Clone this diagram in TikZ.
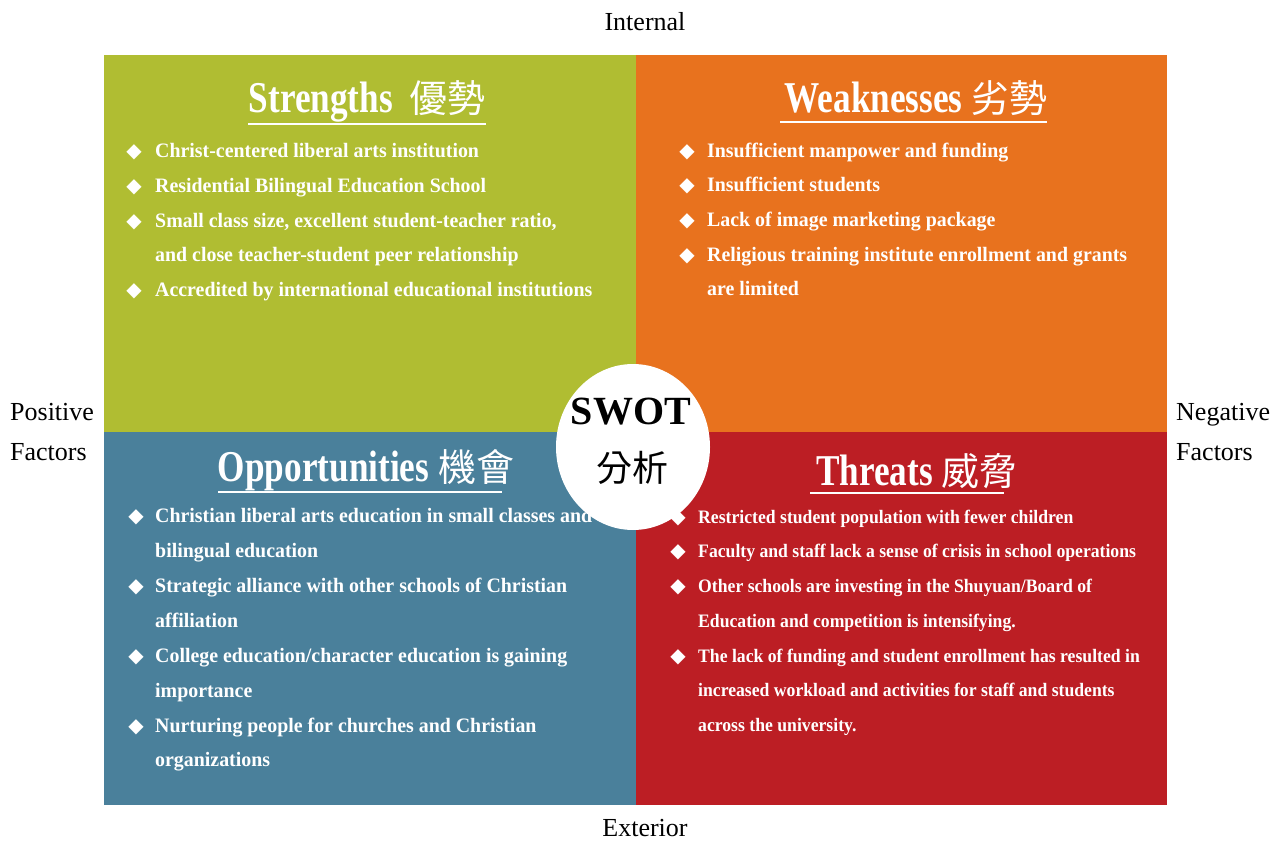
\documentclass[tikz,border=0pt]{standalone}
\usepackage{fontspec}
\usetikzlibrary{shapes.geometric}
\setmainfont{Liberation Serif}
\newfontfamily\cond[FakeStretch=0.8]{Liberation Serif}
\newfontfamily\bodyf[FakeStretch=0.97]{Liberation Serif}
\newfontfamily\tbodyf[FakeStretch=0.93]{Liberation Serif}
\newfontfamily\cjk{Noto Sans CJK TC}
\newfontfamily\sym{DejaVu Sans}
\definecolor{sgreen}{RGB}{176,189,50}
\definecolor{worange}{RGB}{232,114,30}
\definecolor{oblue}{RGB}{74,128,155}
\definecolor{tred}{RGB}{188,30,36}
\newcommand{\zh}[1]{{\cjk\mdseries\fontsize{38}{40}\selectfont #1}}
\begin{document}
\begin{tikzpicture}[x=1pt,y=-1pt,
  lbl/.style={font=\fontsize{26}{30}\selectfont, text=black, inner sep=0},
  side/.style={font=\fontsize{26}{40}\selectfont, text=black, inner sep=0, align=left, anchor=west},
  ttl/.style={font=\cond\bfseries\fontsize{44}{46}\selectfont, text=white, inner sep=0, anchor=base},
  ln/.style={font=\bodyf\bfseries\fontsize{20.5}{22}\selectfont, text=white, inner sep=0, anchor=base west},
  tln/.style={font=\tbodyf\bfseries\fontsize{19}{21}\selectfont, text=white, inner sep=0, anchor=base west},
  bul/.style={font=\sym\fontsize{20}{20}\selectfont, text=white, inner sep=0, anchor=base},
  uline/.style={white, line width=2pt},
]
\useasboundingbox (0,0) rectangle (1286,843);
\fill[white] (0,0) rectangle (1286,843);
% quadrants
\fill[sgreen]  (104,55) rectangle (636,432);
\fill[worange] (636,55) rectangle (1167,432);
\fill[oblue]   (104,432) rectangle (636,805);
\fill[tred]    (636,432) rectangle (1167,805);
% outer labels
\node[lbl] (int) at (645,22) {Internal};
\node[lbl] (ext) at (645,828) {Exterior};
\node[side] (pos) at (10,432) {Positive\\Factors};
\node[side] (neg) at (1176,432) {Negative\\Factors};
% Strengths
\node[ttl] (st) at (367,113) {Strengths\, \zh{優勢}};
\draw[uline] (248,124) -- (486,124);
\foreach \y in {157,192,227,296} \node[bul] at (134,\y) {◆};
\node[ln] (s1) at (155,157) {Christ-centered liberal arts institution};
\node[ln] (s2) at (155,192) {Residential Bilingual Education School};
\node[ln] (s3) at (155,227) {Small class size, excellent student-teacher ratio,};
\node[ln] (s4) at (155,261) {and close teacher-student peer relationship};
\node[ln] (s5) at (155,296) {Accredited by international educational institutions};
% Weaknesses
\node[ttl] (wk) at (916,112) {Weaknesses \zh{劣勢}};
\draw[uline] (780,122) -- (1047,122);
\foreach \y in {157,191,226,261} \node[bul] at (687,\y) {◆};
\node[ln] (w1) at (707,157) {Insufficient manpower and funding};
\node[ln] (w2) at (707,191) {Insufficient students};
\node[ln] (w3) at (707,226) {Lack of image marketing package};
\node[ln] (w4) at (707,261) {Religious training institute enrollment and grants};
\node[ln] (w5) at (707,295) {are limited};
% Opportunities
\node[ttl] (op) at (366,481) {Opportunities \zh{機會}};
\draw[uline] (218,492) -- (502,492);
\foreach \y in {522,592,662,732} \node[bul] at (136,\y) {◆};
\node[ln] (o1) at (155,522) {Christian liberal arts education in small classes and};
\node[ln] (o2) at (155,557) {bilingual education};
\node[ln] (o3) at (155,592) {Strategic alliance with other schools of Christian};
\node[ln] (o4) at (155,627) {affiliation};
\node[ln] (o5) at (155,662) {College education/character education is gaining};
\node[ln] (o6) at (155,697) {importance};
\node[ln] (o7) at (155,732) {Nurturing people for churches and Christian};
\node[ln] (o8) at (155,766) {organizations};
% Threats
\node[ttl] (th) at (917,485) {Threats \zh{威脅}};
\draw[uline] (810,493) -- (1004,493);
\foreach \y in {523,557,592,662} \node[bul] at (678,\y) {◆};
\node[tln] (t1) at (698,523) {Restricted student population with fewer children};
\node[tln] (t2) at (698,557) {Faculty and staff lack a sense of crisis in school operations};
\node[tln] (t3) at (698,592) {Other schools are investing in the Shuyuan/Board of};
\node[tln] (t4) at (698,627) {Education and competition is intensifying.};
\node[tln] (t5) at (698,662) {The lack of funding and student enrollment has resulted in};
\node[tln] (t6) at (698,696) {increased workload and activities for staff and students};
\node[tln] (t7) at (698,731) {across the university.};
% centre
\node[ellipse, fill=white, minimum width=154pt, minimum height=166pt, inner sep=0] (c) at (633,447) {};
\node[font=\bfseries\fontsize{40}{42}\selectfont, inner sep=0, anchor=base] (swot) at (631,424) {SWOT};
\node[font=\cjk\fontsize{36}{38}\selectfont, inner sep=0] (fx) at (632,468) {分析};
\end{tikzpicture}
\end{document}
